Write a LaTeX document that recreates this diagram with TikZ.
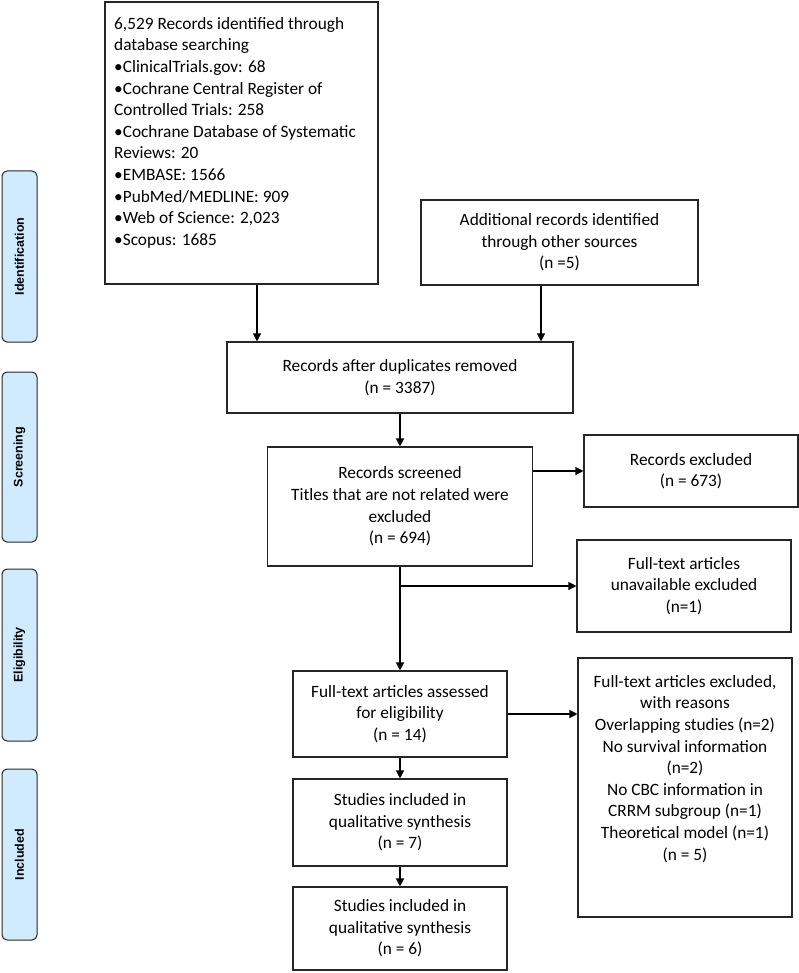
\documentclass[tikz,border=0pt]{standalone}
\usepackage{fontspec}
\setmainfont{Carlito}
\newfontfamily\labelfont{Liberation Sans}
\usetikzlibrary{arrows.meta,positioning,calc}
\definecolor{phasefill}{HTML}{CFEBFD}
\definecolor{edge}{HTML}{262626}
\tikzset{
  box/.style={draw=edge, line width=1.1pt, fill=white, inner sep=0pt, align=center,
    font=\fontsize{17.3}{21.6}\selectfont},
  txt/.style={inner sep=0pt, font=\fontsize{17.3}{21.6}\selectfont},
  phase/.style={draw=edge, line width=1pt, fill=phasefill, rounded corners=5pt,
    rotate=90, minimum height=35pt, inner sep=0pt,
    font=\labelfont\bfseries\fontsize{12.5}{15}\selectfont},
  arr/.style={draw=black, line width=1.2pt, -{Triangle[length=8pt,width=8pt]}}
}
\begin{document}
\begin{tikzpicture}[x=1pt,y=-1pt]
\useasboundingbox (0,0) rectangle (799,973);
% phase labels
\node[phase, minimum width=171pt] (pid) at (19.5,256.5) {Identification};
\node[phase, minimum width=170pt] (psc) at (19.5,457) {Screening};
\node[phase, minimum width=172pt] (pel) at (19.5,655) {Eligibility};
\node[phase, minimum width=171pt] (pin) at (19.5,854.5) {Included};
% boxes
\node[box, minimum width=273pt, minimum height=282pt] (b1) at (241.5,143) {};
\node[txt, anchor=north west, align=left] (b1t) at (114,17) {6,529 Records identified through\\
database searching\\
\textbullet ClinicalTrials.gov: 68\\
\textbullet Cochrane Central Register of\\
Controlled Trials: 258\\
\textbullet Cochrane Database of Systematic\\
Reviews: 20\\
\textbullet EMBASE: 1566\\
\textbullet PubMed/MEDLINE: 909\\
\textbullet Web of Science: 2,023\\
\textbullet Scopus: 1685};
\node[box, minimum width=277pt, minimum height=85pt] (b2) at (559.5,242.5) {Additional records identified\\through other sources\\(n =5)};
\node[box, minimum width=346pt, minimum height=71pt] (b3) at (400,377.5) {Records after duplicates removed\\(n = 3387)};
\node[box, minimum width=265pt, minimum height=119pt] (b4) at (400,506.5) {Records screened\\Titles that are not related were\\excluded\\(n = 694)};
\node[box, minimum width=214pt, minimum height=72pt] (b5) at (691,471) {Records excluded\\(n = 673)};
\node[box, minimum width=214pt, minimum height=92pt] (b6) at (684,586) {Full-text articles\\unavailable excluded\\(n=1)};
\node[box, minimum width=214pt, minimum height=86pt] (b7) at (400,714) {Full-text articles assessed\\for eligibility\\(n = 14)};
\node[box, minimum width=214pt, minimum height=259pt] (b8) at (685,787.5) {};
\node[txt, anchor=north, align=center] (b8t) at (685,675) {Full-text articles excluded,\\with reasons\\Overlapping studies (n=2)\\No survival information\\(n=2)\\No CBC information in\\CRRM subgroup (n=1)\\Theoretical model (n=1)\\(n = 5)};
\node[box, minimum width=214pt, minimum height=87pt] (b9) at (400,822.5) {Studies included in\\qualitative synthesis\\(n = 7)};
\node[box, minimum width=214pt, minimum height=83pt] (b10) at (400,928.5) {Studies included in\\qualitative synthesis\\(n = 6)};
% connectors
\draw[arr] ([xshift=15.5pt]b1.south) -- ([xshift=15.5pt]b1.south |- b3.north);
\draw[arr] ([xshift=-18.5pt]b2.south) -- ([xshift=-18.5pt]b2.south |- b3.north);
\draw[arr] (b3.south) -- (b4.north);
\draw[arr] (b5.west -| b4.east) -- (b5.west);
\draw[arr] (b4.south) -- (b7.north);
\draw[arr] (b4.south |- b6.west) -- (b6.west);
\draw[arr] (b7.east) -- (b7.east -| b8.west);
\draw[arr] (b7.south) -- (b9.north);
\draw[arr] (b9.south) -- (b10.north);
\end{tikzpicture}
\end{document}
